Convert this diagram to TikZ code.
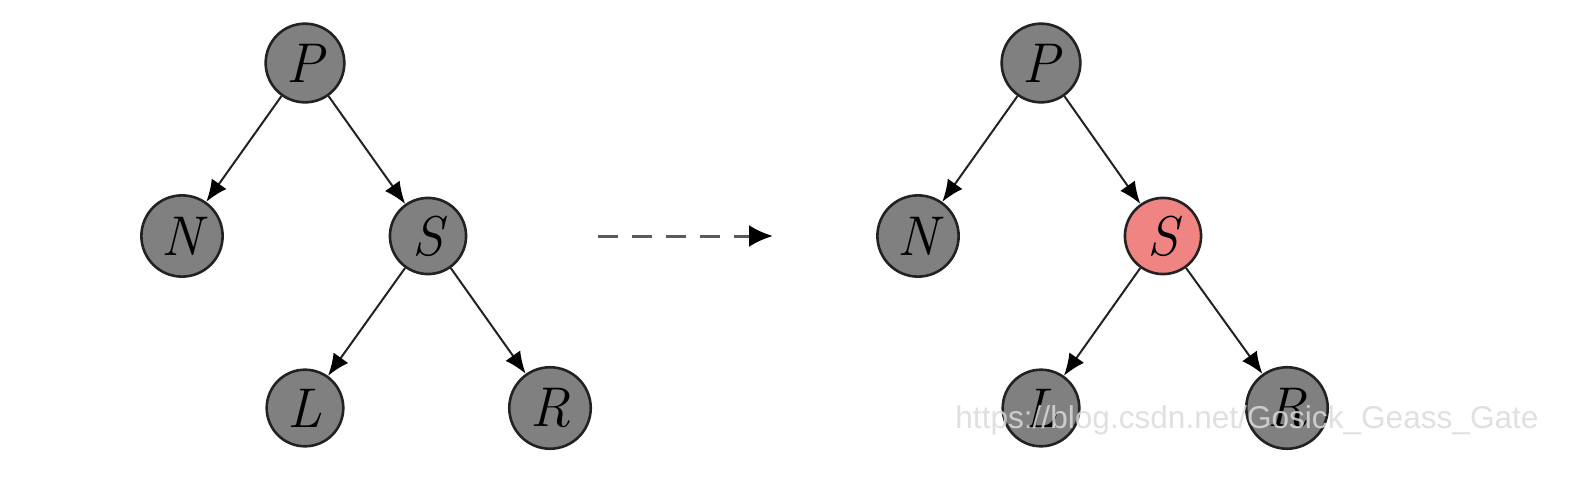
\documentclass[tikz,border=0pt]{standalone}
\usepackage{fontspec}
\newfontfamily\markfont{Liberation Sans}
\usetikzlibrary{arrows.meta}
\definecolor{rbGrey}{HTML}{808080}
\definecolor{rbInk}{HTML}{222222}
\definecolor{rbRed}{HTML}{F08482}
\definecolor{rbDash}{HTML}{5A5A5A}
\definecolor{rbMark}{HTML}{DADADA}
\tikzset{
  key/.style={
    circle, draw=rbInk, line width=1.3pt, fill=rbGrey,
    inner sep=4.5pt, font=\fontsize{28}{34}\selectfont\itshape
  },
  hot/.style={key, fill=rbRed},
  edge/.style={-{Latex[length=11pt, width=9pt, color=black]}, line width=1pt, draw=rbInk},
  turn/.style={-{Latex[length=12pt, width=11pt, color=black]}, line width=1.5pt,
    dash pattern=on 10pt off 7pt, draw=rbDash},
  wm/.style={font=\markfont\fontsize{15.8}{19}\selectfont, text=rbMark,
    text opacity=0.85, anchor=base west, inner sep=0pt},
}

\begin{document}
\begin{tikzpicture}[x=0.5pt, y=-0.5pt]
  \useasboundingbox (0,0) rectangle (1572,502);

  % before
  \node[key] (p1) at (305,63)  {P};
  \node[key] (n1) at (182,236) {N};
  \node[key] (s1) at (428,236) {S};
  \node[key] (l1) at (305,408) {L};
  \node[key] (r1) at (550,408) {R};
  \draw[edge] (p1) -- (n1);
  \draw[edge] (p1) -- (s1);
  \draw[edge] (s1) -- (l1);
  \draw[edge] (s1) -- (r1);

  % step
  \coordinate (from) at (598,236);
  \coordinate (to)   at (773,236);
  \draw[turn] (from) -- (to);

  % after
  \node[key] (p2) at (1041,63)  {P};
  \node[key] (n2) at (918,236)  {N};
  \node[hot] (s2) at (1163,236) {S};
  \node[key] (l2) at (1041,408) {L};
  \node[key] (r2) at (1287,408) {R};
  \draw[edge] (p2) -- (n2);
  \draw[edge] (p2) -- (s2);
  \draw[edge] (s2) -- (l2);
  \draw[edge] (s2) -- (r2);

  \node[wm] (mark) at (955,428) {https://blog.csdn.net/Gosick\_Geass\_Gate};
\end{tikzpicture}
\end{document}
